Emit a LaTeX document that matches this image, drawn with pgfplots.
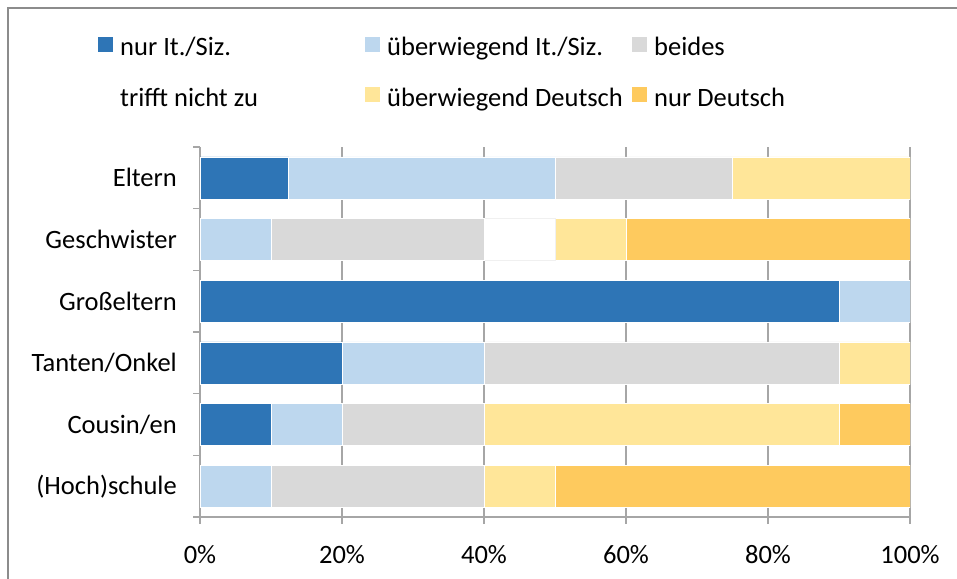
\documentclass[border=0pt]{standalone}
\usepackage{pgfplots}
\pgfplotsset{compat=1.18}
\usepackage{fontspec}
\setmainfont{Carlito}
\definecolor{c1}{HTML}{2E75B6}
\definecolor{c2}{HTML}{BDD7EE}
\definecolor{c3}{HTML}{D9D9D9}
\definecolor{c5}{HTML}{FFE699}
\definecolor{c6}{HTML}{FECA5E}
\definecolor{axgray}{HTML}{A6A6A6}
\definecolor{bordergray}{HTML}{8C8C8C}
\newcommand\fs{\fontsize{26.5}{31.8}\selectfont}
\newcommand\legtxt[1]{\makebox[245pt][l]{\strut #1}}
\pgfplotsset{sq legend/.style={legend image code/.code={\fill[##1,draw=none] (0pt,-6.4pt) rectangle (15pt,8.6pt);}}}
\begin{document}
\begin{tikzpicture}[x=1pt,y=1pt]
\useasboundingbox (0,0) rectangle (957,578);
\draw[color=bordergray, line width=1.5pt] (8,-2) -- (8,570) -- (959,570);
\begin{axis}[
  at={(200pt,61pt)}, anchor=south west, scale only axis,
  width=710pt, height=370pt,
  xbar stacked, bar width=42pt,
  xmin=0, xmax=100, ymin=-0.5, ymax=5.5, y dir=reverse,
  axis x line*=bottom, axis y line*=left,
  axis line style={draw=axgray, line width=1.2pt, -},
  xtick={0,20,40,60,80,100},
  xticklabels={0\%,20\%,40\%,60\%,80\%,100\%},
  ytick={0,1,2,3,4,5},
  yticklabels={Eltern,Geschwister,Großeltern,Tanten/Onkel,Cousin/en,(Hoch)schule},
  ytick style={draw=none},
  xtick style={draw=axgray, line width=1.2pt},
  tick align=outside, major tick length=7pt,
  extra y ticks={-0.5,0.5,1.5,2.5,3.5,4.5,5.5},
  extra y tick labels={},
  extra y tick style={grid=none, ytick style={draw=axgray, line width=1.2pt}},
  xmajorgrids, grid style={draw=axgray, line width=1.2pt},
  tick label style={font=\fs, black},
  xticklabel style={inner sep=0pt, yshift=-21pt},
  yticklabel style={inner sep=0pt, xshift=-16pt},
  legend columns=3,
  legend cell align=left,
  legend style={at={(axis description cs:-0.14366,1.308)}, anchor=north west,
    draw=none, fill=none, inner sep=0pt, font=\fs, row sep=27pt,
    nodes={inner sep=0pt},
    /tikz/every odd column/.style={column sep=7pt},
    /tikz/every even column/.style={column sep=0pt}},
  every axis plot/.append style={draw=white, line width=0.6pt},
]
\addplot[fill=c1, draw=white, sq legend] coordinates {(12.5,0) (0,1) (90,2) (20,3) (10,4) (0,5)};
\addlegendentry{\legtxt{nur It./Siz.}}
\addplot[fill=c2, draw=white, sq legend] coordinates {(37.5,0) (10,1) (10,2) (20,3) (10,4) (10,5)};
\addlegendentry{\legtxt{überwiegend It./Siz.}}
\addplot[fill=c3, draw=white, sq legend] coordinates {(25,0) (30,1) (0,2) (50,3) (20,4) (30,5)};
\addlegendentry{\legtxt{beides}}
\addplot[fill=white, draw=black!6, sq legend] coordinates {(0,0) (10,1) (0,2) (0,3) (0,4) (0,5)};
\addlegendentry{\legtxt{trifft nicht zu}}
\addplot[fill=c5, draw=white, sq legend] coordinates {(25,0) (10,1) (0,2) (10,3) (50,4) (10,5)};
\addlegendentry{\legtxt{überwiegend Deutsch}}
\addplot[fill=c6, draw=white, sq legend] coordinates {(0,0) (40,1) (0,2) (0,3) (10,4) (50,5)};
\addlegendentry{\legtxt{nur Deutsch}}
\end{axis}
\end{tikzpicture}
\end{document}
